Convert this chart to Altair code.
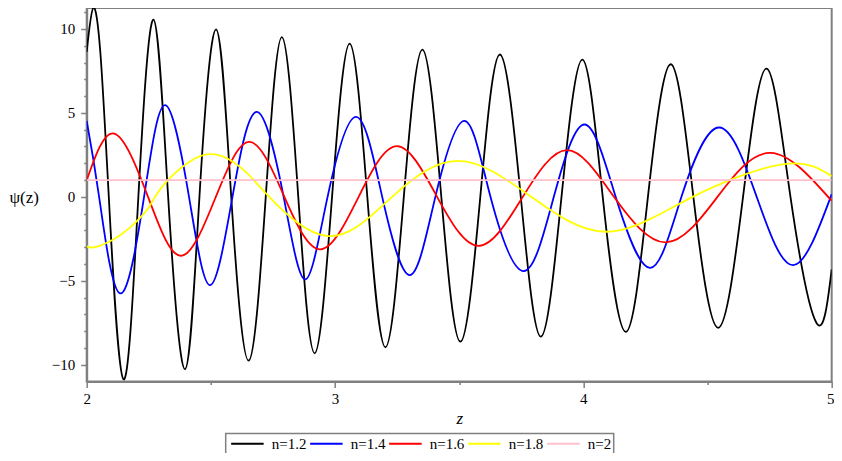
import altair as alt
import pandas as pd

# ---- values ----
names = ["n=1.2", "n=1.4", "n=1.6", "n=1.8", "n=2"]
colors = ["#000000", "#0000ff", "#ff0000", "#ffff00", "#ffc0cb"]

black_z = [2.0, 2.027, 2.055, 2.089, 2.148, 2.208, 2.269, 2.328, 2.396, 2.454, 2.521,
           2.582, 2.652, 2.721, 2.786, 2.852, 2.918, 2.988, 3.059, 3.130, 3.203,
           3.277, 3.352, 3.428, 3.505, 3.585, 3.664, 3.748, 3.829, 3.912, 3.996,
           4.078, 4.171, 4.260, 4.352, 4.443, 4.543, 4.643, 4.738, 4.834, 4.940, 5.0]
black_psi = [8.63, 11.27, 8.6, 0, -10.87, 0, 10.56, 0, -10.27, 0, 9.98,
             0, -9.76, 0, 9.52, 0, -9.32, 0, 9.13, 0, -8.96,
             0, 8.77, 0, -8.63, 0, 8.48, 0, -8.33, 0, 8.18,
             0, -8.04, 0, 7.90, 0, -7.80, 0, 7.64, 0, -7.54, -4.32]

blue_z = [2.0, 2.050, 2.134, 2.231, 2.316, 2.412, 2.497, 2.587, 2.685, 2.793,
          2.880, 2.970, 3.085, 3.190, 3.301, 3.404, 3.521, 3.626, 3.760, 3.881,
          4.005, 4.130, 4.269, 4.395, 4.547, 4.698, 4.845, 5.0]
blue_psi = [4.52, 0, -5.75, 0, 5.46, 0, -5.26, 0, 5.06, 0,
            -4.92, 0, 4.76, 0, -4.66, 0, 4.52, 0, -4.42, 0,
            4.31, 0, -4.23, 0, 4.13, 0, -4.07, 0.16]

red_z = [2.0, 2.111, 2.247, 2.380, 2.520, 2.656, 2.796, 2.941, 3.095, 3.250,
         3.411, 3.579, 3.756, 3.935, 4.123, 4.332, 4.540, 4.755, 5.0]
red_psi = [0.99, 3.77, 0, -3.51, 0, 3.27, 0, -3.13, 0, 3.02,
           0, -2.92, 0, 2.78, 0, -2.71, 0, 2.62, -0.24]

yellow_z = [2.0, 2.033, 2.107, 2.175, 2.242, 2.275, 2.327, 2.417, 2.494, 2.570,
            2.650, 2.735, 2.974, 3.230, 3.498, 3.790, 4.097, 4.440, 4.809, 5.0]
yellow_psi = [-2.95, -3.0, -2.54, -1.82, -0.79, 0, 1.0, 2.12, 2.54, 2.25,
              1.35, 0, -2.34, 0, 2.14, 0, -2.08, 0, 1.95, 1.23]

pink_z = [2.0, 5.0]
pink_psi = [1.0, 1.0]

x_ticks = [2, 2.5, 3, 3.5, 4, 4.5, 5]
y_ticks = list(range(-10, 12))

# ---- table ----
rows = []
for name, zs, ps in zip(names,
                        [black_z, blue_z, red_z, yellow_z, pink_z],
                        [black_psi, blue_psi, red_psi, yellow_psi, pink_psi]):
    for i, (z, p) in enumerate(zip(zs, ps)):
        rows.append({"n": name, "z": z, "psi": p, "i": i})
df = pd.DataFrame(rows)

FONT = "Liberation Serif"
GREY = "#808080"

x_axis = alt.Axis(
    values=x_ticks,
    labelExpr="datum.value % 1 === 0 ? format(datum.value, 'd') : ''",
    tickSize={"condition": {"test": "datum.value % 1 === 0", "value": 6}, "value": 3},
    labelOffset={"condition": {"test": "datum.value === 5", "value": -1.5}, "value": 0},
    labelFlush=False,
    labelPadding=4,
    labelFont=FONT, labelFontSize=15, labelColor="black",
    title="z", titleFont=FONT, titleFontSize=17, titleFontStyle="italic",
    titleFontWeight="normal", titleColor="black",
    titleY=37, titleBaseline="middle",
    grid=False,
)
y_axis = alt.Axis(
    values=y_ticks,
    labelExpr="datum.value % 5 === 0 ? datum.label : ''",
    tickSize={"condition": {"test": "datum.value % 5 === 0", "value": 6}, "value": 3},
    labelFlush=False,
    labelPadding=6,
    labelFont=FONT, labelFontSize=15, labelColor="black",
    title="ψ(z)", titleFont=FONT, titleFontSize=17, titleFontWeight="normal",
    titleColor="black", titleAngle=0, titleAlign="center", titleBaseline="middle",
    titleX=-63, titleY=189,
    grid=False,
)

chart = alt.Chart(df).mark_line(
    interpolate="natural", strokeWidth=1.8, clip=True
).encode(
    x=alt.X("z:Q", scale=alt.Scale(domain=[2, 5], nice=False, zero=False), axis=x_axis),
    y=alt.Y("psi:Q", scale=alt.Scale(domain=[-11.0, 11.25], nice=False, zero=False), axis=y_axis),
    color=alt.Color(
        "n:N",
        scale=alt.Scale(domain=names, range=colors),
        sort=names,
        legend=alt.Legend(
            title=None, orient="none", legendX=139, legendY=425.5,
            direction="horizontal", symbolType="M-0.7,0L4.3,0", symbolSize=169,
            symbolStrokeWidth=2, labelFont=FONT, labelFontSize=15,
            labelColor="black", labelOffset=28.5, columnPadding=-4, padding=2.5,
            strokeColor=GREY,
        ),
    ),
    order="i:Q",
).properties(
    width=745, height=373.5,
    padding={"left": 78.7, "top": 0, "right": 2, "bottom": 71},
    autosize=alt.AutoSizeParams(type="none"),
).configure_view(
    stroke=GREY, strokeWidth=2
).configure_axis(
    domainColor=GREY, domainWidth=2, tickColor=GREY, tickWidth=1.5
).configure_legend(
    strokeWidth=1.5
)

chart.save("out.html", embed_options={"renderer": "svg", "actions": False})
